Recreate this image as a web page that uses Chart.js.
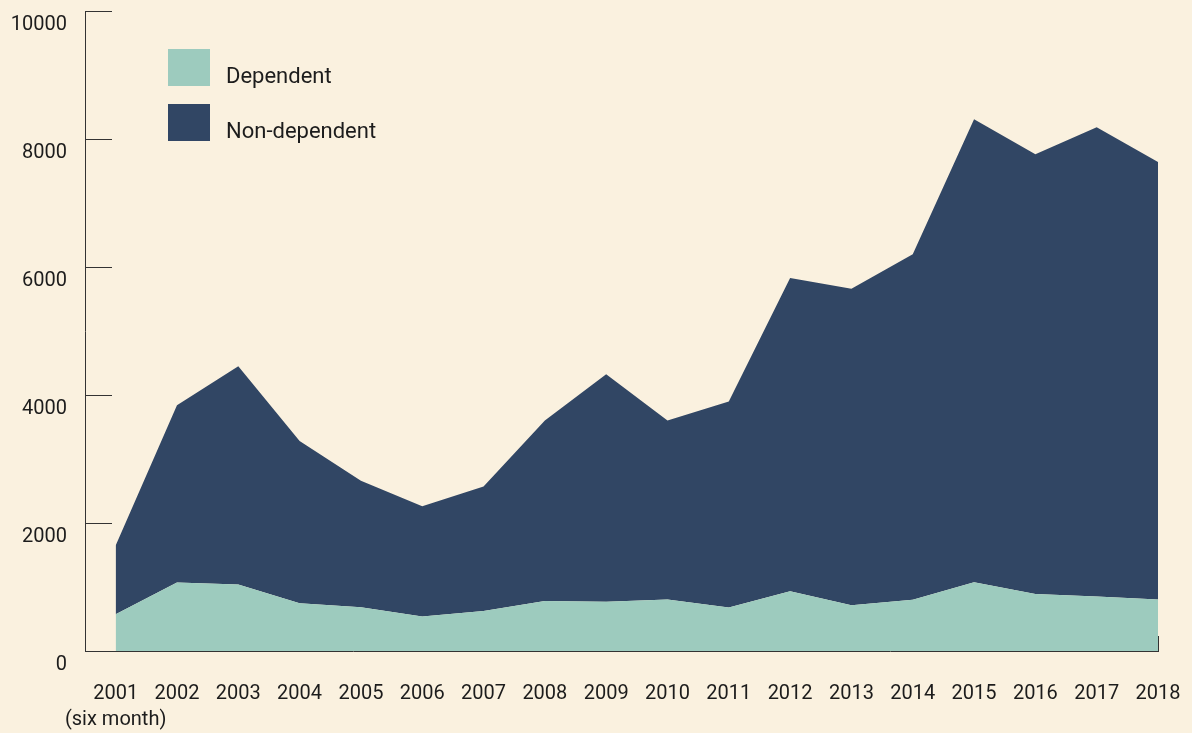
<!DOCTYPE html>
<html>
<head>
<meta charset="utf-8">
<script src="https://cdn.jsdelivr.net/npm/chart.js@4.4.0/dist/chart.umd.min.js"></script>
<style>
    body{margin:0;background:#faf1df;}
    #caja{width:1192px;height:733px;position:relative;}
</style>
</head>
<body>
<div id="caja"><canvas id="myChart"></canvas></div>
<script>
// datos
const years=['2001','2002','2003','2004','2005','2006','2007','2008','2009','2010','2011','2012','2013','2014','2015','2016','2017','2018']
const firstNote='(six month)'
const dependent=[575,1070,1040,745,685,540,625,780,770,805,680,935,715,800,1075,890,850,805]
const nonDependent=[1075,2770,3410,2535,1975,1720,1945,2820,3555,2795,3220,4895,4945,5400,7235,6870,7335,6835]
const yTicks=[0,2000,4000,6000,8000,10000]

const colorDep='#9dcbbe'
const colorNon='#314664'
const ink='#1c1c1c'

const toPoints=(arr)=>arr.map((v,i)=>({x:i,y:v}))

// ticks cortos hacia adentro y leyenda dentro del area
const extras={
    id:'extras',
    afterDatasetsDraw(chart){
        const ctx=chart.ctx
        const xs=chart.scales.x
        const ys=chart.scales.y
        const left=xs.left
        ctx.save()
        ctx.strokeStyle='#333'
        ctx.lineWidth=1
        ctx.beginPath()
        for(const t of yTicks){
            const py=Math.round(ys.getPixelForValue(t))+0.5
            ctx.moveTo(left,py)
            ctx.lineTo(left+27,py)
        }
        for(const v of [xs.min,xs.max]){
            const px=Math.round(xs.getPixelForValue(v))+0.5
            ctx.moveTo(px,ys.bottom)
            ctx.lineTo(px,ys.bottom-15)
        }
        ctx.stroke()

        ctx.font='22px Roboto'
        ctx.textBaseline='alphabetic'
        chart.data.datasets.forEach((ds,i)=>{
            const top=49+i*55
            ctx.fillStyle=ds.backgroundColor
            ctx.fillRect(168,top,42,37)
            ctx.fillStyle=ink
            ctx.fillText(ds.label,226,top+34)
        })
        ctx.restore()
    }
}

const ctx=document.getElementById('myChart').getContext('2d')
const myChart=new Chart(ctx,{
    type:'line',
    data:{
        datasets:[{
            label:'Dependent',
            data:toPoints(dependent),
            backgroundColor:colorDep,
            borderWidth:0,
            pointRadius:0,
            fill:'origin'
        },
        {
            label:'Non-dependent',
            data:toPoints(nonDependent),
            backgroundColor:colorNon,
            borderWidth:0,
            pointRadius:0,
            fill:'-1'
        }]
    },
    options:{
        responsive:true,
        maintainAspectRatio:false,
        animation:false,
        layout:{padding:{left:11,right:34,top:11,bottom:2}},
        plugins:{legend:{display:false},tooltip:{enabled:false}},
        elements:{line:{tension:0}},
        scales:{
            x:{
                type:'linear',
                min:-0.5,
                max:years.length-1,
                afterBuildTicks:(scale)=>{scale.ticks=years.map((y,i)=>({value:i}))},
                afterFit:(scale)=>{
                    scale.paddingLeft=0
                    scale.paddingRight=0
                    scale.height=80
                },
                grid:{display:false},
                border:{display:true,color:'#333',width:1},
                ticks:{
                    autoSkip:false,
                    maxRotation:0,
                    padding:22,
                    color:ink,
                    font:{family:'Roboto',size:20,lineHeight:1.3},
                    callback:(v)=>v===0?[years[0],firstNote]:years[v]
                }
            },
            y:{
                stacked:true,
                min:0,
                max:10000,
                afterBuildTicks:(scale)=>{scale.ticks=yTicks.map(v=>({value:v}))},
                afterFit:(scale)=>{
                    scale.paddingTop=0
                    scale.paddingBottom=0
                    scale.width=74
                },
                grid:{display:false},
                border:{display:true,color:'#333',width:1},
                ticks:{
                    padding:10,
                    labelOffset:14,
                    color:ink,
                    font:{family:'Roboto',size:20},
                    callback:(v)=>String(v)
                }
            }
        }
    },
    plugins:[extras]
})
</script>
</body>
</html>
